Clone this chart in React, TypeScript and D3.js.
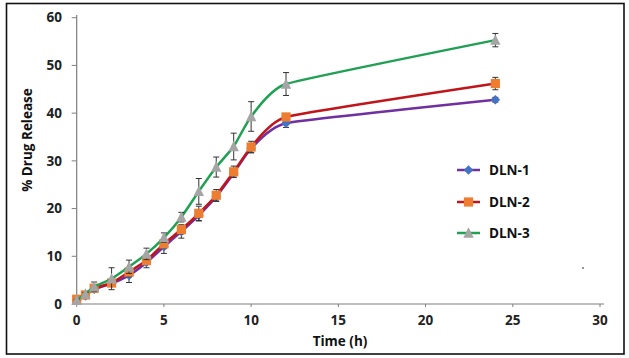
import React from "react";
import * as d3 from "d3";

const times = [0, 0.5, 1, 2, 3, 4, 5, 6, 7, 8, 9, 10, 12, 24];
const dln1 = [0.8, 1.7, 3.1, 4.3, 6.0, 8.7, 12.0, 15.2, 18.6, 22.5, 27.4, 32.6, 37.9, 42.8];
const err1 = [0.2, 0.3, 0.5, 0.6, 1.5, 1.1, 1.4, 1.4, 1.2, 1.0, 0.8, 0.9, 0.9, 0.5];
const dln2 = [1.0, 1.9, 3.3, 4.4, 6.7, 9.1, 12.6, 15.6, 19.0, 22.8, 27.7, 32.9, 39.2, 46.2];
const err2 = [0.2, 0.3, 0.5, 0.6, 1.0, 0.8, 0.9, 0.9, 1.5, 1.2, 1.2, 1.2, 0.6, 1.3];
const dln3 = [0.8, 2.1, 3.6, 5.3, 7.8, 10.5, 13.9, 18.2, 23.6, 28.7, 33.0, 39.3, 46.1, 55.3];
const err3 = [0.2, 0.3, 1.0, 2.3, 1.4, 1.2, 1.0, 1.0, 2.7, 2.1, 2.8, 3.1, 2.4, 1.4];
const seriesNames = ["DLN-1", "DLN-2", "DLN-3"];
const xTicks = [0, 5, 10, 15, 20, 25, 30];
const yTicks = [0, 10, 20, 30, 40, 50, 60];

const W = 629, H = 358;
const font = "'Open Sans', 'DejaVu Sans', sans-serif";

export default function App() {
  const x = d3.scaleLinear().domain([0, 30]).range([76.7, 600]);
  const y = d3.scaleLinear().domain([0, 60]).range([304, 17.7]);
  const line = d3
    .line<[number, number]>()
    .x((d) => x(d[0]))
    .y((d) => y(d[1]))
    .curve(d3.curveCardinal.tension(0.6));

  const series = [
    { name: seriesNames[0], vals: dln1, errs: err1, line: "#7030A0", marker: "#4472C4", shape: "diamond" },
    { name: seriesNames[1], vals: dln2, errs: err2, line: "#C0151B", marker: "#ED7D31", shape: "square" },
    { name: seriesNames[2], vals: dln3, errs: err3, line: "#1FA052", marker: "#A5A5A5", shape: "triangle" },
  ];

  const marker = (shape: string, cx: number, cy: number, fill: string, key?: any) => {
    if (shape === "diamond") {
      const s = 4.8;
      return <path key={key} d={`M${cx},${cy - s}L${cx + s},${cy}L${cx},${cy + s}L${cx - s},${cy}Z`} fill={fill} />;
    }
    if (shape === "square") {
      const s = 4.6;
      return <rect key={key} x={cx - s} y={cy - s} width={2 * s} height={2 * s} fill={fill} />;
    }
    const s = 5.2;
    return <path key={key} d={`M${cx},${cy - s - 0.5}L${cx + s},${cy + s - 0.5}L${cx - s},${cy + s - 0.5}Z`} fill={fill} />;
  };

  const legendY = [170, 202, 233];

  return (
    <svg width={W} height={H} style={{ position: "fixed", left: 0, top: 0, background: "#fff" }} fontFamily={font}>
      <rect x={0} y={0} width={W} height={H} fill="#fff" />
      <rect x={6.5} y={3.5} width={617.5} height={350.5} fill="none" stroke="#111" strokeWidth={1.6} />

      {/* axes */}
      <line x1={x(0)} x2={x(0)} y1={15} y2={y(0)} stroke="#7f7f7f" strokeWidth={1.2} />
      <line x1={x(0)} x2={604} y1={y(0)} y2={y(0)} stroke="#7f7f7f" strokeWidth={1.2} />
      {yTicks.map((t) => (
        <g key={"y" + t}>
          <line x1={x(0) - 5} x2={x(0)} y1={y(t)} y2={y(t)} stroke="#7f7f7f" strokeWidth={1} />
          <text x={62} y={y(t)} dy="0.35em" textAnchor="end" fontSize={13.5} fontWeight={700} fill="#222">
            {t}
          </text>
        </g>
      ))}
      {xTicks.map((t) => (
        <g key={"x" + t}>
          <line x1={x(t)} x2={x(t)} y1={y(0)} y2={y(0) + 3} stroke="#7f7f7f" strokeWidth={1} />
          <text x={x(t)} y={325} textAnchor="middle" fontSize={13.5} fontWeight={700} fill="#222">
            {t}
          </text>
        </g>
      ))}
      <text x={340} y={346} textAnchor="middle" fontSize={13.5} fontWeight={700} fill="#111">
        Time (h)
      </text>
      <text
        transform={`translate(32,140) rotate(-90)`}
        textAnchor="middle"
        fontSize={13.5}
        fontWeight={700}
        fill="#111"
      >
        % Drug Release
      </text>

      {series.map((s) => {
        const pts = times.map((t, i) => [t, s.vals[i]] as [number, number]);
        return (
          <g key={s.name}>
            <path d={line(pts) || ""} fill="none" stroke={s.line} strokeWidth={2.5} />
            {pts.map((p, i) => {
              const cx = x(p[0]);
              const e = s.errs[i];
              const y1 = y(p[1] + e), y2 = y(p[1] - e);
              return (
                <g key={i} stroke="#333" strokeWidth={1}>
                  <line x1={cx} x2={cx} y1={y1} y2={y2} />
                  <line x1={cx - 3} x2={cx + 3} y1={y1} y2={y1} />
                  <line x1={cx - 3} x2={cx + 3} y1={y2} y2={y2} />
                </g>
              );
            })}
            {pts.map((p, i) => marker(s.shape, x(p[0]), y(p[1]), s.marker, i))}
          </g>
        );
      })}

      {/* legend */}
      {series.map((s, i) => (
        <g key={"lg" + i}>
          <line x1={457} x2={480} y1={legendY[i]} y2={legendY[i]} stroke={s.line} strokeWidth={2.5} />
          {marker(s.shape, 468.5, legendY[i], s.marker)}
          <text x={489} y={legendY[i]} dy="0.36em" fontSize={13.5} fontWeight={700} fill="#111">
            {s.name}
          </text>
        </g>
      ))}
      <circle cx={583} cy={268} r={0.9} fill="#666" />
    </svg>
  );
}
